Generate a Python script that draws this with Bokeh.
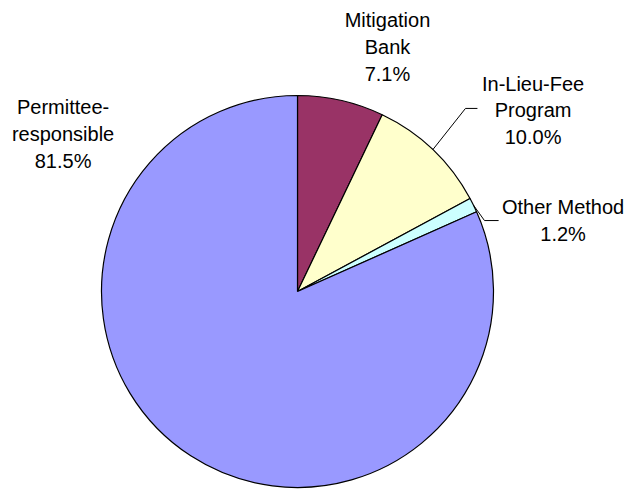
import math
from bokeh.plotting import figure
from bokeh.models import Range1d, ColumnDataSource
from bokeh.core.properties import value
from bokeh.embed import file_html
from bokeh.resources import INLINE

# Data
categories = ["Mitigation Bank", "In-Lieu-Fee Program", "Other Method", "Permittee-responsible"]
label_lines = [["Mitigation", "Bank"], ["In-Lieu-Fee", "Program"], ["Other Method"], ["Permittee-", "responsible"]]
shares = [7.1, 10.0, 1.2, 81.5]
colors = ["#993366", "#FFFFCC", "#CCFFFF", "#9999FF"]

# Layout (pie units; radius = 1)
R_PX = 196.0
W, H = 630, 497
CX, CY = 297.0, 291.0  # pie centre in figure pixels (from top-left)
label_pos = [  # centre x, middle y of first line
    (0.459, 1.383),
    (1.202, 1.061),
    (1.355, 0.429),
    (-1.196, 0.939),
]
line_step = 0.136
leaders = {1: [(0.857, 0.934), (0.918, 0.934)], 2: [(0.954, 0.362), (1.026, 0.362)]}

p = figure(width=W, height=H, output_backend="svg", toolbar_location=None,
           x_range=Range1d(-CX / R_PX, (W - CX) / R_PX),
           y_range=Range1d(-(H - CY) / R_PX, CY / R_PX),
           min_border=0)
p.axis.visible = False
p.grid.visible = False
p.outline_line_color = None
p.background_fill_color = "white"
p.border_fill_color = "white"

total = sum(shares)
starts, ends, mids = [], [], []
cum = 0.0
for s in shares:
    a0 = math.pi / 2 - 2 * math.pi * (cum + s) / total
    a1 = math.pi / 2 - 2 * math.pi * cum / total
    starts.append(a0)
    ends.append(a1)
    mids.append((a0 + a1) / 2)
    cum += s

src = ColumnDataSource(dict(start=starts, end=ends, color=colors, name=categories))
p.wedge(x=0, y=0, radius=1.0, start_angle="start", end_angle="end", source=src,
        fill_color="color", line_color="black", line_width=1.2, direction="anticlock")

# Leader lines
for i, pts in leaders.items():
    xs = [math.cos(mids[i])] + [q[0] for q in pts]
    ys = [math.sin(mids[i])] + [q[1] for q in pts]
    p.line(xs, ys, line_color="black", line_width=1)

# Labels
tx, ty, tt = [], [], []
for i, (lines, s) in enumerate(zip(label_lines, shares)):
    x0, y0 = label_pos[i]
    all_lines = lines + [f"{s:.1f}%"]
    for k, t in enumerate(all_lines):
        tx.append(x0)
        ty.append(y0 - k * line_step)
        tt.append(t)
p.text(x=tx, y=ty, text=tt, text_align="center", text_baseline="middle",
       text_font=value("Liberation Sans"), text_font_size="20px", text_color="black")

open("out.html", "w").write(file_html(p, INLINE))
